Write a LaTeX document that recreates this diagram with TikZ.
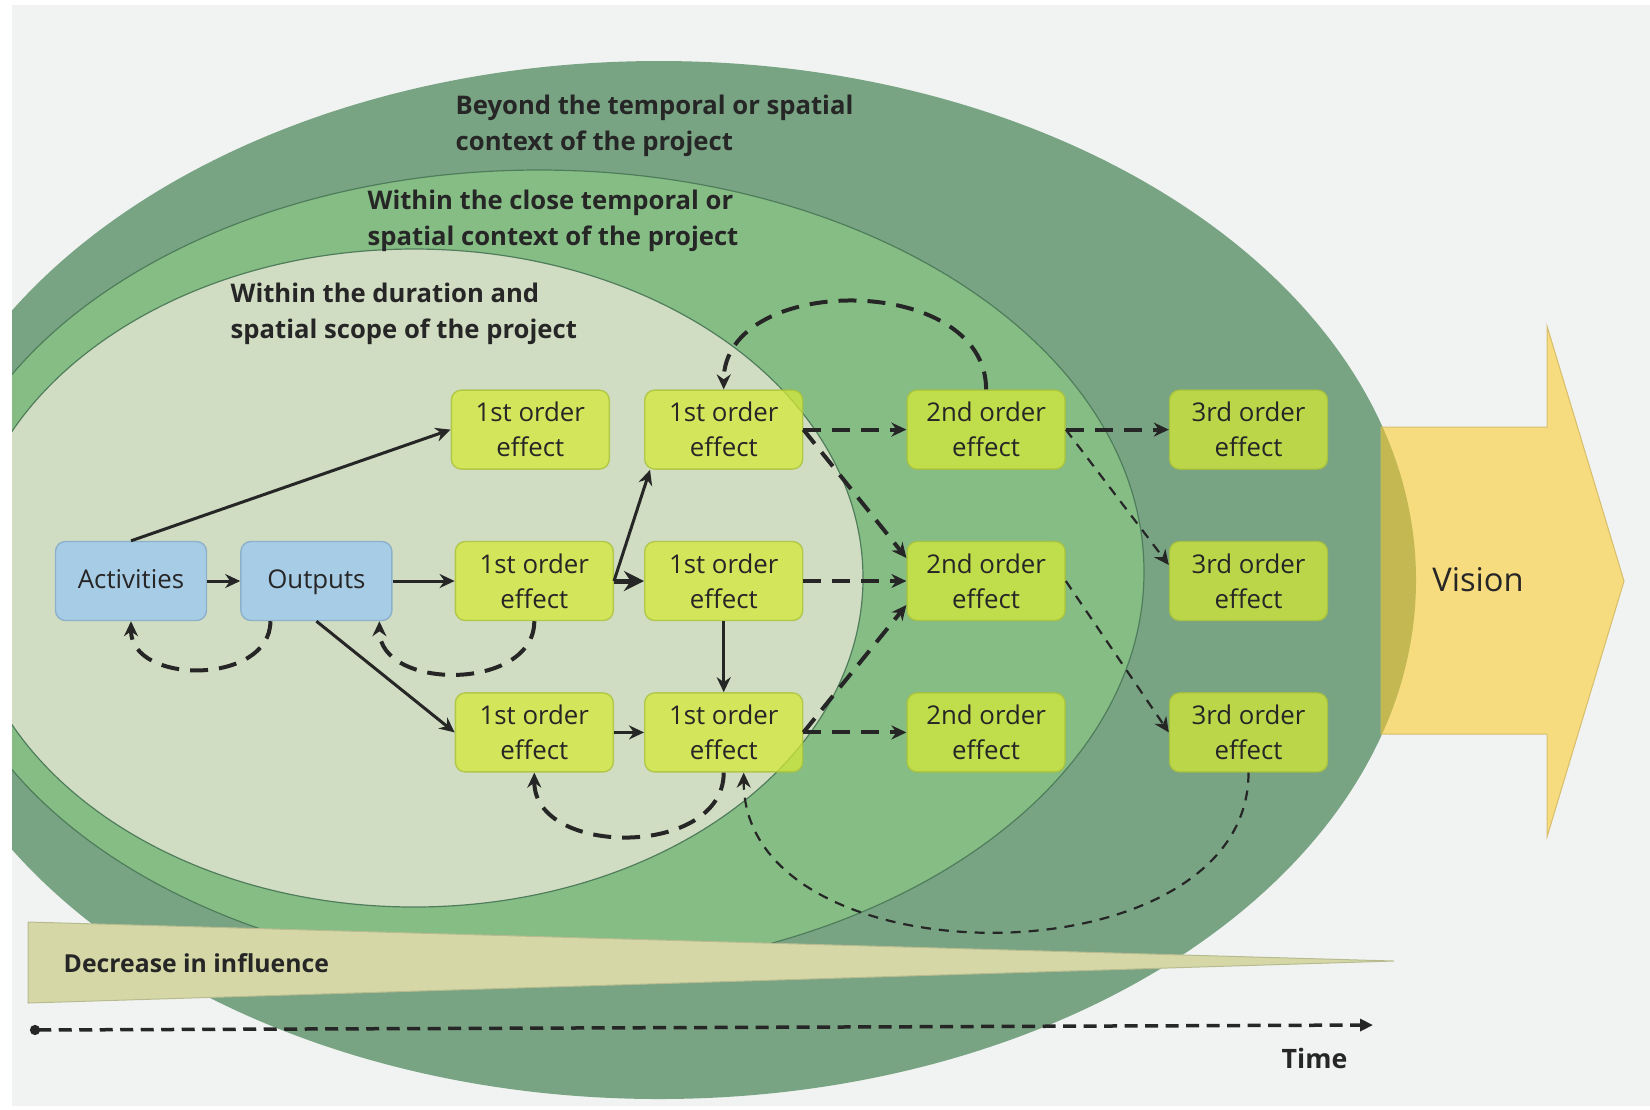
\documentclass[tikz,border=0pt]{standalone}
\usepackage{fontspec}
\setmainfont{Open Sans}
\usetikzlibrary{arrows.meta,positioning}
\definecolor{DarkText}{HTML}{262626}
\definecolor{Backdrop}{HTML}{F1F3F2}
\definecolor{OuterZone}{HTML}{78A483}
\definecolor{MidZone}{HTML}{86BD85}
\definecolor{InnerZone}{HTML}{D1DDC2}
\definecolor{ZoneLine}{HTML}{4F7D5B}
\definecolor{Fade}{HTML}{D5D8A6}
\definecolor{FadeLine}{HTML}{B8BB90}
\definecolor{VisionFill}{HTML}{F6DC7E}
\definecolor{VisionLine}{HTML}{D6BE6C}
\definecolor{VisionDark}{HTML}{C4B853}
\definecolor{EffectFill}{HTML}{D4E838}
\definecolor{EffectLine}{HTML}{A9C23A}
\definecolor{InputFill}{HTML}{A7CCE5}
\definecolor{InputLine}{HTML}{8DB1CA}
\newcommand{\boxfont}{\fontsize{7.35}{9.9}\selectfont}
\newcommand{\zonefont}{\fontsize{7.3}{10.2}\selectfont\bfseries}
\tikzset{
  effect/.style={rounded corners=1mm, draw=EffectLine, fill=EffectFill, fill opacity=0.75, draw opacity=0.8, text opacity=1, minimum width=15.8mm, minimum height=7.9mm, inner sep=0pt, align=center, font=\boxfont, text=DarkText},
  inputbox/.style={rounded corners=1mm, draw=InputLine, fill=InputFill, minimum width=15.1mm, minimum height=7.9mm, inner sep=0pt, text height=2.1mm, text depth=0.6mm, align=center, font=\boxfont, text=DarkText},
  zonelabel/.style={anchor=base west, align=left, inner sep=0pt, font=\zonefont, text=DarkText},
  arr/.style={-{Stealth[length=1.5mm,width=1.4mm]}, line width=0.3mm, draw=DarkText},
  bigarr/.style={-{Stealth[length=2mm,width=2mm]}, line width=0.5mm, draw=DarkText},
  dasharr/.style={arr, line width=0.4mm, dash pattern=on 1.8mm off 1.1mm},
  thinarr/.style={arr, line width=0.22mm, dash pattern=on 1mm off 0.8mm}
}

\begin{document}
\begin{tikzpicture}[x=0.1mm, y=-0.1mm]
\useasboundingbox (0,0) rectangle (1650,1109);
\fill[white] (0,0) rectangle (1650,1109);
\fill[Backdrop] (12,5) rectangle (1650,1106);

% zones
\begin{scope}
\clip (12,5) rectangle (1650,1106);
\fill[OuterZone] (659,580) ellipse [x radius=75.7mm, y radius=51.9mm];
\filldraw[fill=MidZone, draw=ZoneLine, line width=0.12mm] (539,572) ellipse [x radius=60.5mm, y radius=40.2mm];
\filldraw[fill=InnerZone, draw=ZoneLine, line width=0.12mm] (414,578) ellipse [x radius=44.9mm, y radius=32.9mm];
\end{scope}

% vision arrow
\filldraw[fill=VisionFill, draw=VisionLine, line width=0.1mm] (1381,427) -- (1547,427) -- (1547,326) -- (1624,581) -- (1547,837) -- (1547,734) -- (1381,734) -- cycle;
\begin{scope}
\clip (659,580) ellipse [x radius=75.7mm, y radius=51.9mm];
\fill[VisionDark] (1381,427) rectangle (1547,734);
\end{scope}
\node[font=\fontsize{9.3}{11}\selectfont, text=DarkText] (vision) at (1478,580) {Vision};

% decrease in influence
\filldraw[fill=Fade, draw=FadeLine, line width=0.1mm] (28,922) -- (1394,961) -- (28,1003) -- cycle;
\node[zonelabel, font=\fontsize{7.05}{8}\selectfont\bfseries] (decr) at (63,972) {Decrease in influence};

% time
\coordinate (tstart) at (30,1030);
\coordinate (tend) at (1373,1025);
\draw[{Circle[length=1mm]}-{Triangle[length=1.3mm,width=1.2mm]}, line width=0.35mm, draw=DarkText, dash pattern=on 1.3mm off 0.75mm] (tstart) -- (tend);
\node[zonelabel, font=\fontsize{7.6}{9}\selectfont\bfseries] (time) at (1281,1068) {Time};

% zone labels (anchored at the last baseline)
\node[zonelabel] (beyond) at (455,150) {Beyond the temporal or spatial\\context of the project};
\node[zonelabel] (close) at (367,245) {Within the close temporal or\\spatial context of the project};
\node[zonelabel] (within) at (230,338) {Within the duration and\\spatial scope of the project};

% boxes
\node[inputbox] (act) at (131,581) {Activities};
\node[inputbox, right=3.3mm of act] (outp) {Outputs};
\node[effect, right=6.2mm of outp] (f21) {1st order\\effect};
\node[effect, right=3.0mm of f21] (f22) {1st order\\effect};
\node[effect, right=10.3mm of f22] (s2) {2nd order\\effect};
\node[effect, right=10.3mm of s2] (t2) {3rd order\\effect};
\node[effect, above=7.1mm of f21, xshift=-0.4mm] (f11) {1st order\\effect};
\node[effect, above=7.1mm of f22] (f12) {1st order\\effect};
\node[effect, above=7.1mm of s2] (s1) {2nd order\\effect};
\node[effect, above=7.1mm of t2] (t1) {3rd order\\effect};
\node[effect, below=7.1mm of f21] (f31) {1st order\\effect};
\node[effect, below=7.1mm of f22] (f32) {1st order\\effect};
\node[effect, below=7.1mm of s2] (s3) {2nd order\\effect};
\node[effect, below=7.1mm of t2] (t3) {3rd order\\effect};

% solid links
\draw[arr] (act) -- (outp);
\draw[arr] (act.north) -- (f11.west);
\draw[arr] (outp) -- (f21);
\draw[arr] (outp.south) -- (f31.west);
\draw[bigarr] (f21) -- (f22);
\draw[arr] (f21.east) -- ([xshift=0.6mm]f12.south west);
\draw[arr] (f22) -- (f32);
\draw[arr] (f31) -- (f32);

% dashed links
\draw[dasharr] (f12) -- (s1);
\draw[dasharr] (f12.east) -- ([yshift=2.3mm]s2.west);
\draw[dasharr] (f22) -- (s2);
\draw[dasharr] (f32.east) -- ([yshift=-2.4mm]s2.west);
\draw[dasharr] (f32) -- (s3);
\draw[dasharr] (s1) -- (t1);
\draw[thinarr] (s1.east) -- ([yshift=1.6mm]t2.west);
\draw[thinarr] (s2.east) -- (t3.west);

% feedback loops
\draw[dasharr] ([xshift=-4.6mm]outp.south) .. controls +(0,64) and +(0,64) .. (act.south);
\draw[dasharr] (f21.south) .. controls +(0,70) and +(0,70) .. ([xshift=6.3mm]outp.south);
\draw[dasharr] (f32.south) .. controls +(0,85) and +(0,85) .. (f31.south);
\draw[dasharr] (s1.north) .. controls +(0,-117) and +(0,-117) .. (f12.north);
\draw[thinarr] (t3.south) .. controls +(0,212) and +(0,212) .. ([xshift=2mm]f32.south);
\end{tikzpicture}
\end{document}
